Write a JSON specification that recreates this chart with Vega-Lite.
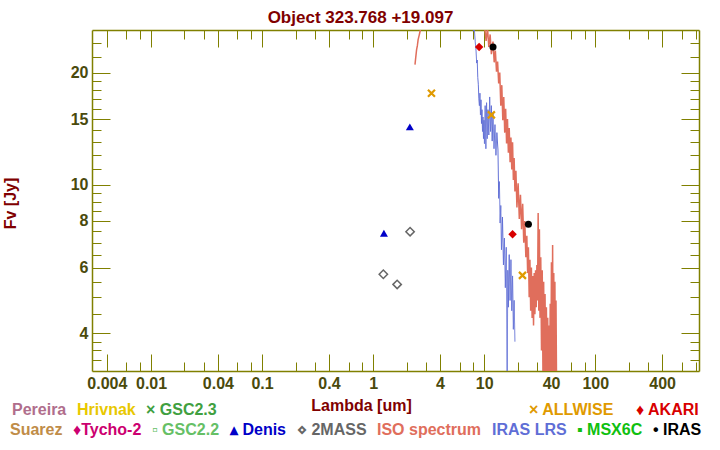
{
  "$schema": "https://vega.github.io/schema/vega-lite/v6.json",
  "width": 607,
  "height": 341,
  "autosize": "none",
  "padding": {"left": 92, "top": 30, "right": 21, "bottom": 79},
  "background": "white",
  "title": {"text": "Object 323.768 +19.097", "color": "#800000", "font": "Liberation Sans", "fontSize": 17, "fontWeight": "bold", "anchor": "middle", "baseline": "alphabetic", "offset": 9, "dx": -35, "dy": 19},
  "datasets": {
    "phot": [
      {"series": "AKARI", "lambda": 9, "flux": 23.4},
      {"series": "AKARI", "lambda": 18, "flux": 7.37},
      {"series": "IRAS", "lambda": 12, "flux": 23.4},
      {"series": "IRAS", "lambda": 25, "flux": 7.84},
      {"series": "ALLWISE", "lambda": 3.35, "flux": 17.6},
      {"series": "ALLWISE", "lambda": 11.6, "flux": 15.4},
      {"series": "ALLWISE", "lambda": 22.1, "flux": 5.72},
      {"series": "Denis", "lambda": 1.25, "flux": 7.42},
      {"series": "Denis", "lambda": 2.14, "flux": 14.3},
      {"series": "2MASS", "lambda": 1.235, "flux": 5.76},
      {"series": "2MASS", "lambda": 1.645, "flux": 5.41},
      {"series": "2MASS", "lambda": 2.15, "flux": 7.49}
    ],
    "spec": [
      {"series": "IRAS LRS", "lambda": 7.8, "flux": 28.5},
      {"series": "IRAS LRS", "lambda": 8.0, "flux": 25.8},
      {"series": "IRAS LRS", "lambda": 8.15, "flux": 26.0},
      {"series": "IRAS LRS", "lambda": 8.3, "flux": 24.2},
      {"series": "IRAS LRS", "lambda": 8.45, "flux": 22.8},
      {"series": "IRAS LRS", "lambda": 8.55, "flux": 21.2},
      {"series": "IRAS LRS", "lambda": 8.65, "flux": 21.6},
      {"series": "IRAS LRS", "lambda": 8.75, "flux": 19.4},
      {"series": "IRAS LRS", "lambda": 8.85, "flux": 18.6},
      {"series": "IRAS LRS", "lambda": 8.95, "flux": 17.0},
      {"series": "IRAS LRS", "lambda": 9.05, "flux": 16.3},
      {"series": "IRAS LRS", "lambda": 9.15, "flux": 17.6},
      {"series": "IRAS LRS", "lambda": 9.25, "flux": 15.4},
      {"series": "IRAS LRS", "lambda": 9.35, "flux": 16.9},
      {"series": "IRAS LRS", "lambda": 9.45, "flux": 14.6},
      {"series": "IRAS LRS", "lambda": 9.55, "flux": 15.9},
      {"series": "IRAS LRS", "lambda": 9.65, "flux": 13.9},
      {"series": "IRAS LRS", "lambda": 9.75, "flux": 15.2},
      {"series": "IRAS LRS", "lambda": 9.85, "flux": 13.3},
      {"series": "IRAS LRS", "lambda": 9.95, "flux": 14.9},
      {"series": "IRAS LRS", "lambda": 10.05, "flux": 12.9},
      {"series": "IRAS LRS", "lambda": 10.2, "flux": 16.3},
      {"series": "IRAS LRS", "lambda": 10.35, "flux": 12.5},
      {"series": "IRAS LRS", "lambda": 10.5, "flux": 16.6},
      {"series": "IRAS LRS", "lambda": 10.65, "flux": 13.3},
      {"series": "IRAS LRS", "lambda": 10.8, "flux": 15.9},
      {"series": "IRAS LRS", "lambda": 11.0, "flux": 13.6},
      {"series": "IRAS LRS", "lambda": 11.2, "flux": 17.2},
      {"series": "IRAS LRS", "lambda": 11.4, "flux": 13.9},
      {"series": "IRAS LRS", "lambda": 11.6, "flux": 16.3},
      {"series": "IRAS LRS", "lambda": 11.8, "flux": 13.1},
      {"series": "IRAS LRS", "lambda": 12.0, "flux": 15.6},
      {"series": "IRAS LRS", "lambda": 12.25, "flux": 12.5},
      {"series": "IRAS LRS", "lambda": 12.5, "flux": 14.5},
      {"series": "IRAS LRS", "lambda": 12.75, "flux": 12.0},
      {"series": "IRAS LRS", "lambda": 13.0, "flux": 13.8},
      {"series": "IRAS LRS", "lambda": 13.3, "flux": 12.4},
      {"series": "IRAS LRS", "lambda": 13.5, "flux": 9.2},
      {"series": "IRAS LRS", "lambda": 13.7, "flux": 10.2},
      {"series": "IRAS LRS", "lambda": 13.9, "flux": 7.9},
      {"series": "IRAS LRS", "lambda": 14.1, "flux": 8.8},
      {"series": "IRAS LRS", "lambda": 14.3, "flux": 6.7},
      {"series": "IRAS LRS", "lambda": 14.6, "flux": 8.2},
      {"series": "IRAS LRS", "lambda": 14.9, "flux": 6.1},
      {"series": "IRAS LRS", "lambda": 15.2, "flux": 7.2},
      {"series": "IRAS LRS", "lambda": 15.5, "flux": 5.3},
      {"series": "IRAS LRS", "lambda": 15.8, "flux": 6.8},
      {"series": "IRAS LRS", "lambda": 16.1, "flux": 2.9},
      {"series": "IRAS LRS", "lambda": 16.3, "flux": 5.9},
      {"series": "IRAS LRS", "lambda": 16.5, "flux": 4.7},
      {"series": "IRAS LRS", "lambda": 16.8, "flux": 6.5},
      {"series": "IRAS LRS", "lambda": 17.1, "flux": 4.9},
      {"series": "IRAS LRS", "lambda": 17.4, "flux": 6.3},
      {"series": "IRAS LRS", "lambda": 17.7, "flux": 4.6},
      {"series": "IRAS LRS", "lambda": 18.0, "flux": 5.7},
      {"series": "IRAS LRS", "lambda": 18.3, "flux": 4.1},
      {"series": "IRAS LRS", "lambda": 18.6, "flux": 4.9},
      {"series": "IRAS LRS", "lambda": 18.9, "flux": 3.8},
      {"series": "ISO spectrum", "lambda": 2.38, "flux": 21.0},
      {"series": "ISO spectrum", "lambda": 2.42, "flux": 22.0},
      {"series": "ISO spectrum", "lambda": 2.46, "flux": 23.0},
      {"series": "ISO spectrum", "lambda": 2.5, "flux": 23.6},
      {"series": "ISO spectrum", "lambda": 2.54, "flux": 24.5},
      {"series": "ISO spectrum", "lambda": 2.6, "flux": 25.2},
      {"series": "ISO spectrum", "lambda": 2.66, "flux": 26.0},
      {"series": "ISO spectrum", "lambda": 2.75, "flux": 28.5},
      {"series": "ISO spectrum", "lambda": 9.9, "flux": 28.5},
      {"series": "ISO spectrum", "lambda": 10.15, "flux": 26.0},
      {"series": "ISO spectrum", "lambda": 10.4, "flux": 24.3},
      {"series": "ISO spectrum", "lambda": 10.7, "flux": 26.4},
      {"series": "ISO spectrum", "lambda": 11.0, "flux": 23.4},
      {"series": "ISO spectrum", "lambda": 11.3, "flux": 25.3},
      {"series": "ISO spectrum", "lambda": 11.6, "flux": 22.4},
      {"series": "ISO spectrum", "lambda": 12.0, "flux": 24.2},
      {"series": "ISO spectrum", "lambda": 12.3, "flux": 21.3},
      {"series": "ISO spectrum", "lambda": 12.6, "flux": 22.9},
      {"series": "ISO spectrum", "lambda": 12.9, "flux": 20.1},
      {"series": "ISO spectrum", "lambda": 13.2, "flux": 21.4},
      {"series": "ISO spectrum", "lambda": 13.5, "flux": 18.7},
      {"series": "ISO spectrum", "lambda": 13.8, "flux": 20.0},
      {"series": "ISO spectrum", "lambda": 14.1, "flux": 16.3},
      {"series": "ISO spectrum", "lambda": 14.4, "flux": 18.5},
      {"series": "ISO spectrum", "lambda": 14.7, "flux": 14.9},
      {"series": "ISO spectrum", "lambda": 15.0, "flux": 17.2},
      {"series": "ISO spectrum", "lambda": 15.3, "flux": 13.8},
      {"series": "ISO spectrum", "lambda": 15.6, "flux": 16.0},
      {"series": "ISO spectrum", "lambda": 15.9, "flux": 12.9},
      {"series": "ISO spectrum", "lambda": 16.2, "flux": 15.0},
      {"series": "ISO spectrum", "lambda": 16.5, "flux": 12.2},
      {"series": "ISO spectrum", "lambda": 16.8, "flux": 14.2},
      {"series": "ISO spectrum", "lambda": 17.1, "flux": 11.5},
      {"series": "ISO spectrum", "lambda": 17.4, "flux": 13.4},
      {"series": "ISO spectrum", "lambda": 17.7, "flux": 11.0},
      {"series": "ISO spectrum", "lambda": 18.0, "flux": 13.0},
      {"series": "ISO spectrum", "lambda": 18.3, "flux": 10.3},
      {"series": "ISO spectrum", "lambda": 18.6, "flux": 11.8},
      {"series": "ISO spectrum", "lambda": 18.9, "flux": 9.6},
      {"series": "ISO spectrum", "lambda": 19.3, "flux": 10.9},
      {"series": "ISO spectrum", "lambda": 19.7, "flux": 8.7},
      {"series": "ISO spectrum", "lambda": 20.2, "flux": 10.1},
      {"series": "ISO spectrum", "lambda": 20.7, "flux": 8.1},
      {"series": "ISO spectrum", "lambda": 21.2, "flux": 9.4},
      {"series": "ISO spectrum", "lambda": 21.7, "flux": 7.6},
      {"series": "ISO spectrum", "lambda": 22.2, "flux": 8.9},
      {"series": "ISO spectrum", "lambda": 22.7, "flux": 7.0},
      {"series": "ISO spectrum", "lambda": 23.2, "flux": 8.0},
      {"series": "ISO spectrum", "lambda": 23.7, "flux": 6.4},
      {"series": "ISO spectrum", "lambda": 24.2, "flux": 7.3},
      {"series": "ISO spectrum", "lambda": 24.6, "flux": 5.8},
      {"series": "ISO spectrum", "lambda": 25.0, "flux": 6.8},
      {"series": "ISO spectrum", "lambda": 25.4, "flux": 5.0},
      {"series": "ISO spectrum", "lambda": 25.8, "flux": 6.3},
      {"series": "ISO spectrum", "lambda": 26.2, "flux": 4.6},
      {"series": "ISO spectrum", "lambda": 26.6, "flux": 6.0},
      {"series": "ISO spectrum", "lambda": 27.0, "flux": 4.4},
      {"series": "ISO spectrum", "lambda": 27.4, "flux": 5.7},
      {"series": "ISO spectrum", "lambda": 27.8, "flux": 4.2},
      {"series": "ISO spectrum", "lambda": 28.2, "flux": 5.8},
      {"series": "ISO spectrum", "lambda": 28.6, "flux": 4.5},
      {"series": "ISO spectrum", "lambda": 29.0, "flux": 5.9},
      {"series": "ISO spectrum", "lambda": 29.4, "flux": 4.7},
      {"series": "ISO spectrum", "lambda": 29.8, "flux": 6.1},
      {"series": "ISO spectrum", "lambda": 30.2, "flux": 4.9},
      {"series": "ISO spectrum", "lambda": 30.6, "flux": 8.4},
      {"series": "ISO spectrum", "lambda": 31.0, "flux": 4.6},
      {"series": "ISO spectrum", "lambda": 31.4, "flux": 7.6},
      {"series": "ISO spectrum", "lambda": 31.8, "flux": 4.4},
      {"series": "ISO spectrum", "lambda": 32.3, "flux": 6.4},
      {"series": "ISO spectrum", "lambda": 32.8, "flux": 3.6},
      {"series": "ISO spectrum", "lambda": 33.3, "flux": 5.9},
      {"series": "ISO spectrum", "lambda": 33.8, "flux": 3.1},
      {"series": "ISO spectrum", "lambda": 34.3, "flux": 5.5},
      {"series": "ISO spectrum", "lambda": 34.8, "flux": 2.9},
      {"series": "ISO spectrum", "lambda": 35.3, "flux": 5.1},
      {"series": "ISO spectrum", "lambda": 35.8, "flux": 2.9},
      {"series": "ISO spectrum", "lambda": 36.3, "flux": 4.7},
      {"series": "ISO spectrum", "lambda": 36.8, "flux": 2.9},
      {"series": "ISO spectrum", "lambda": 37.3, "flux": 4.4},
      {"series": "ISO spectrum", "lambda": 37.8, "flux": 2.9},
      {"series": "ISO spectrum", "lambda": 38.3, "flux": 4.2},
      {"series": "ISO spectrum", "lambda": 38.8, "flux": 2.9},
      {"series": "ISO spectrum", "lambda": 39.3, "flux": 4.8},
      {"series": "ISO spectrum", "lambda": 39.8, "flux": 2.9},
      {"series": "ISO spectrum", "lambda": 40.3, "flux": 6.2},
      {"series": "ISO spectrum", "lambda": 40.8, "flux": 2.9},
      {"series": "ISO spectrum", "lambda": 41.3, "flux": 6.9},
      {"series": "ISO spectrum", "lambda": 41.8, "flux": 2.9},
      {"series": "ISO spectrum", "lambda": 42.3, "flux": 5.8},
      {"series": "ISO spectrum", "lambda": 42.8, "flux": 2.9},
      {"series": "ISO spectrum", "lambda": 43.3, "flux": 5.5},
      {"series": "ISO spectrum", "lambda": 43.8, "flux": 2.9},
      {"series": "ISO spectrum", "lambda": 44.3, "flux": 4.9},
      {"series": "ISO spectrum", "lambda": 44.8, "flux": 2.9}
    ]
  },
  "resolve": {"axis": {"x": "independent", "y": "independent"}},
  "layer": [
    {
      "mark": {"type": "text", "font": "Liberation Sans", "fontSize": 27, "fontWeight": "bold", "color": "#f7f2ec", "align": "center", "baseline": "middle"},
      "encoding": {
        "x": {"datum": 1.41, "type": "quantitative", "scale": {"type": "log", "domain": [0.00294, 859], "nice": false}, "axis": null},
        "y": {"datum": 11.45, "type": "quantitative", "scale": {"type": "log", "domain": [3.17, 26.0], "nice": false}, "axis": null},
        "text": {"value": "The Torun post-AGB catalogue"}
      }
    },
    {
      "mark": {"type": "text", "font": "Liberation Sans", "fontSize": 27, "fontWeight": "bold", "color": "#f7f2ec", "align": "center", "baseline": "middle"},
      "encoding": {
        "x": {"datum": 1.41, "type": "quantitative", "axis": null},
        "y": {"datum": 6.17, "type": "quantitative", "axis": null},
        "text": {"value": "http://www.ncac.torun.pl/postagb"}
      }
    },
    {
      "data": {"name": "spec"},
      "transform": [{"filter": "datum.series == 'IRAS LRS'"}],
      "mark": {"type": "line", "clip": true, "strokeWidth": 1, "interpolate": "linear"},
      "encoding": {
        "x": {"field": "lambda", "type": "quantitative", "axis": {"orient": "bottom", "values": [0.006, 0.008, 0.02, 0.03, 0.06, 0.08, 0.2, 0.3, 0.6, 0.8, 2, 3, 6, 8, 20, 30, 60, 80, 200, 300, 600, 800], "tickSize": -9, "labels": false, "domain": false, "title": null}},
        "y": {"field": "flux", "type": "quantitative", "axis": {"orient": "left", "values": [3.4, 3.6, 3.8, 4.5, 5, 5.5, 6.5, 7, 7.5, 8.5, 9, 9.5, 11, 12, 13, 14, 16, 17, 18, 19, 22, 24], "tickSize": -9, "labels": false, "domain": false, "title": null}},
        "order": {"field": "lambda"},
        "color": {"field": "series", "type": "nominal"},
        "strokeDash": {"field": "series", "type": "nominal"}
      }
    },
    {
      "data": {"name": "spec"},
      "transform": [{"filter": "datum.series == 'ISO spectrum'"}],
      "mark": {"type": "line", "clip": true, "strokeWidth": 1.5, "interpolate": "linear"},
      "encoding": {
        "x": {"field": "lambda", "type": "quantitative", "title": "Lambda [um]",
          "axis": {"orient": "bottom", "values": [0.004, 0.01, 0.04, 0.1, 0.4, 1, 4, 10, 40, 100, 400], "format": "~g", "tickSize": -17, "labelPadding": 21, "labelFlush": false, "labelOverlap": false, "domainWidth": 1.5, "titleX": 269, "titleY": 34, "titleBaseline": "middle", "titleAlign": "center", "titleAnchor": null}},
        "y": {"field": "flux", "type": "quantitative", "title": "Fv [Jy]",
          "axis": {"orient": "left", "values": [4, 6, 8, 10, 15, 20], "format": "~g", "tickSize": -18, "labelPadding": 22, "labelOverlap": false, "domainWidth": 1.5, "titleX": -82, "titleY": 173, "titleAngle": -90, "titleBaseline": "middle", "titleAlign": "center", "titleAnchor": null}},
        "order": {"field": "lambda"},
        "color": {"field": "series", "type": "nominal",
          "scale": {"domain": ["Suarez", "Tycho-2", "GSC2.2", "Denis", "2MASS", "ISO spectrum", "IRAS LRS", "MSX6C", "IRAS", "Pereira", "Hrivnak", "GSC2.3", "ALLWISE", "AKARI"],
                    "range": ["#c08c48", "#cc0070", "#66c066", "#0000c8", "#666666", "#e06e5c", "#5f6ed6", "#10c010", "#000000", "#b06e8c", "#e8c800", "#40a040", "#e09a00", "#d80000"]},
          "legend": {"orient": "none", "legendX": -82, "legendY": 392, "direction": "horizontal", "title": null, "values": ["Suarez", "Tycho-2", "GSC2.2", "Denis", "2MASS", "ISO spectrum", "IRAS LRS", "MSX6C", "IRAS"], "columnPadding": 10, "symbolSize": 0, "labelOffset": -16,
            "labelExpr": "datum.value == 'Tycho-2' ? '♦Tycho-2' : datum.value == 'GSC2.2' ? '▫ GSC2.2' : datum.value == 'Denis' ? '▴ Denis' : datum.value == '2MASS' ? '⋄ 2MASS' : datum.value == 'MSX6C' ? '▪ MSX6C' : datum.value == 'IRAS' ? '• IRAS' : datum.label",
            "encode": {"labels": {"update": {"fill": {"scale": "color", "field": "value"}}}}}},
        "strokeDash": {"field": "series", "type": "nominal",
          "scale": {"domain": ["ALLWISE", "AKARI", "ISO spectrum", "IRAS LRS"], "range": [[1, 0], [1, 0], [1, 0], [1, 0]]},
          "legend": {"orient": "none", "legendX": 437, "legendY": 372, "direction": "horizontal", "title": null, "values": ["ALLWISE", "AKARI"], "columnPadding": 22, "symbolSize": 0, "labelOffset": -16,
            "labelExpr": "datum.value == 'ALLWISE' ? '× ALLWISE' : '♦ AKARI'",
            "encode": {"labels": {"update": {"fill": {"scale": "color", "field": "value"}}}}}}
      }
    },
    {
      "data": {"name": "phot"},
      "transform": [{"filter": "datum.series == 'AKARI'"}],
      "mark": {"type": "point", "filled": true, "size": 72, "opacity": 1},
      "encoding": {
        "x": {"field": "lambda", "type": "quantitative", "axis": {"orient": "top", "values": [0.004, 0.01, 0.04, 0.1, 0.4, 1, 4, 10, 40, 100, 400], "tickSize": -17, "labels": false, "domainWidth": 1.5, "title": null}},
        "y": {"field": "flux", "type": "quantitative", "axis": {"orient": "right", "values": [4, 6, 8, 10, 15, 20], "tickSize": -18, "labels": false, "domainWidth": 1.5, "title": null}},
        "color": {"field": "series", "type": "nominal"},
        "shape": {"field": "series", "type": "nominal",
          "scale": {"domain": ["Pereira", "Hrivnak", "GSC2.3", "Tycho-2", "GSC2.2", "Denis", "2MASS", "MSX6C", "IRAS", "ALLWISE", "AKARI"],
                    "range": ["circle", "circle", "cross", "diamond", "square", "triangle-up", "diamond", "square", "circle", "M-1,-1L1,1M-1,1L1,-1", "diamond"]},
          "legend": {"orient": "none", "legendX": -80, "legendY": 372, "direction": "horizontal", "title": null, "values": ["Pereira", "Hrivnak", "GSC2.3"], "columnPadding": 10, "symbolSize": 0, "labelOffset": -16,
            "labelColor": {"expr": "scale('color', datum.value)"},
            "labelExpr": "datum.value == 'GSC2.3' ? '× GSC2.3' : datum.label",
            "encode": {"labels": {"update": {"fill": {"scale": "color", "field": "value"}}}}}}
      }
    },
    {
      "data": {"name": "phot"},
      "transform": [{"filter": "datum.series == 'IRAS'"}],
      "mark": {"type": "point", "filled": true, "size": 50, "opacity": 1},
      "encoding": {
        "x": {"field": "lambda", "type": "quantitative", "axis": {"orient": "top", "values": [0.006, 0.008, 0.02, 0.03, 0.06, 0.08, 0.2, 0.3, 0.6, 0.8, 2, 3, 6, 8, 20, 30, 60, 80, 200, 300, 600, 800], "tickSize": -9, "labels": false, "domain": false, "title": null}},
        "y": {"field": "flux", "type": "quantitative", "axis": {"orient": "right", "values": [3.4, 3.6, 3.8, 4.5, 5, 5.5, 6.5, 7, 7.5, 8.5, 9, 9.5, 11, 12, 13, 14, 16, 17, 18, 19, 22, 24], "tickSize": -9, "labels": false, "domain": false, "title": null}},
        "color": {"field": "series", "type": "nominal"},
        "shape": {"field": "series", "type": "nominal"}
      }
    },
    {
      "data": {"name": "phot"},
      "transform": [{"filter": "datum.series == 'Denis'"}],
      "mark": {"type": "point", "filled": true, "size": 64, "opacity": 1},
      "encoding": {
        "x": {"field": "lambda", "type": "quantitative", "axis": null},
        "y": {"field": "flux", "type": "quantitative", "axis": null},
        "color": {"field": "series", "type": "nominal"},
        "shape": {"field": "series", "type": "nominal"}
      }
    },
    {
      "data": {"name": "phot"},
      "transform": [{"filter": "datum.series == '2MASS'"}],
      "mark": {"type": "point", "filled": false, "size": 70, "strokeWidth": 1.5, "opacity": 1},
      "encoding": {
        "x": {"field": "lambda", "type": "quantitative", "axis": null},
        "y": {"field": "flux", "type": "quantitative", "axis": null},
        "color": {"field": "series", "type": "nominal"},
        "shape": {"field": "series", "type": "nominal"}
      }
    },
    {
      "data": {"name": "phot"},
      "transform": [{"filter": "datum.series == 'ALLWISE'"}],
      "mark": {"type": "point", "filled": false, "size": 49, "strokeWidth": 2.2, "opacity": 1},
      "encoding": {
        "x": {"field": "lambda", "type": "quantitative", "axis": null},
        "y": {"field": "flux", "type": "quantitative", "axis": null},
        "color": {"field": "series", "type": "nominal"},
        "shape": {"field": "series", "type": "nominal",
          "legend": {"orient": "none", "legendX": -80, "legendY": 372, "direction": "horizontal", "title": null, "values": ["Pereira", "Hrivnak", "GSC2.3"], "columnPadding": 10, "symbolSize": 0, "labelOffset": -16,
            "labelColor": {"expr": "scale('color', datum.value)"},
            "labelExpr": "datum.value == 'GSC2.3' ? '× GSC2.3' : datum.label",
            "encode": {"labels": {"update": {"fill": {"scale": "color", "field": "value"}}}}}}
      }
    }
  ],
  "config": {
    "view": {"stroke": null},
    "axis": {"domainColor": "#808000", "tickColor": "#808000", "tickWidth": 1, "grid": false, "labelColor": "#4a4a0c", "labelFont": "Liberation Sans", "labelFontSize": 16, "labelFontWeight": "bold", "titleColor": "#800000", "titleFont": "Liberation Sans", "titleFontSize": 16, "titleFontWeight": "bold"},
    "legend": {"labelFont": "Liberation Sans", "labelFontSize": 16, "labelFontWeight": "bold", "symbolSize": 0, "symbolOpacity": 0, "symbolStrokeWidth": 0, "labelOffset": -16, "padding": 0, "labelLimit": 300}
  }
}
